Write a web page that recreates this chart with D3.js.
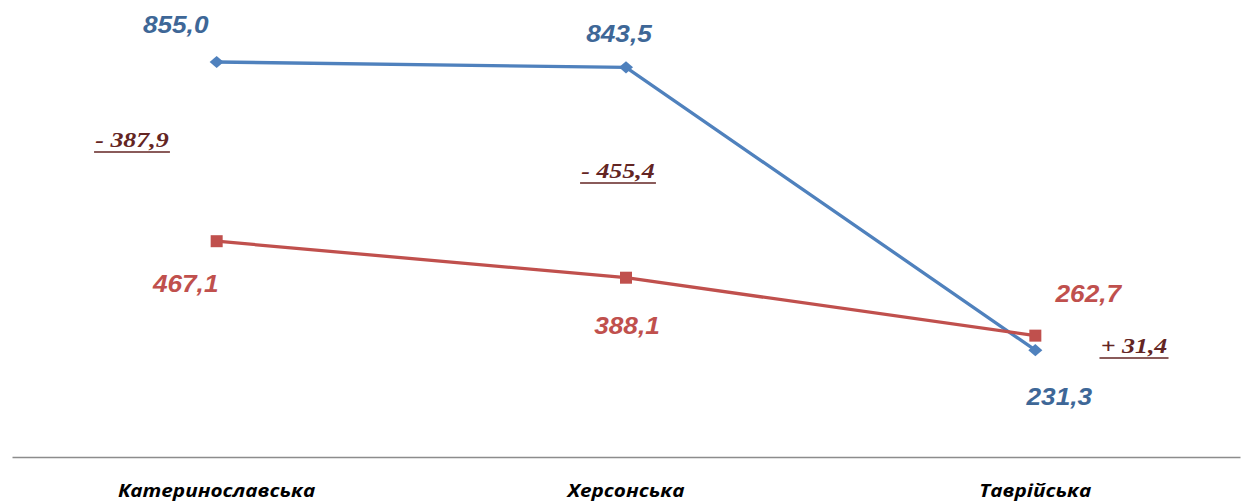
<!DOCTYPE html>
<html><head><meta charset="utf-8">
<script src="https://cdn.jsdelivr.net/npm/d3@7"></script>
<style>
html,body{margin:0;padding:0;background:#fff;}
svg{display:block;}
</style></head>
<body>
<svg id="chart" width="1247" height="503"></svg>
<script>
const categories = ["Катеринославська", "Херсонська", "Таврійська"];
const seriesBlue = [855.0, 843.5, 231.3];
const seriesRed = [467.1, 388.1, 262.7];
const diffLabels = ["- 387,9", "- 455,4", "+ 31,4"];

// layout (label offsets relative to points)
const blueLabelOff = [[-41,-29],[-7,-25],[24,55]];
const redLabelOff = [[-31,51],[1,56],[53,-34]];
const diffPos = [[132,147],[618,178],[1134,353]];

const svg = d3.select("#chart");
const x = d3.scaleBand().domain(categories).range([12,1240]);
const cx = c => x(c) + x.bandwidth()/2;
const y = d3.scaleLinear().domain([0,900]).range([457, 457-900*0.46199]);

const fmt = v => v.toFixed(1).replace(".", ",");
const SX = 1.14;

// axis
const axis = svg.append("g").attr("transform", `translate(0,${y(0)})`)
  .call(d3.axisBottom(x).tickSize(0).tickPadding(0));
axis.select(".domain").attr("stroke","#8c8c8c").attr("stroke-width",1.5);
axis.selectAll(".tick text").remove();
categories.forEach(c=>{
  svg.append("text").attr("transform",`translate(${cx(c)},497) scale(1.12,1)`)
    .attr("text-anchor","middle")
    .style("font-family","'Open Sans', sans-serif").style("font-weight","bold").style("font-style","italic")
    .style("font-size","18.5px").attr("fill","#000").text(c);
});

const line = d3.line().x((d,i)=>cx(categories[i])).y(d=>y(d));
const blue = "#4F81BD", red = "#C0504D";

svg.append("path").datum(seriesBlue).attr("d",line).attr("fill","none").attr("stroke",blue).attr("stroke-width",3.3);
svg.append("path").datum(seriesRed).attr("d",line).attr("fill","none").attr("stroke",red).attr("stroke-width",3.3);

svg.selectAll(".bm").data(seriesBlue).enter().append("path")
  .attr("d", d3.symbol().type(d3.symbolDiamond2).size(95))
  .attr("transform",(d,i)=>`translate(${cx(categories[i])},${y(d)}) scale(1.15,1)`).attr("fill",blue);
svg.selectAll(".rm").data(seriesRed).enter().append("rect")
  .attr("x",(d,i)=>cx(categories[i])-6).attr("y",d=>y(d)-6).attr("width",12).attr("height",12).attr("fill",red);

function valLabel(vals, off, color){
  vals.forEach((v,i)=>{
    svg.append("text")
      .attr("transform",`translate(${cx(categories[i])+off[i][0]},${y(v)+off[i][1]}) scale(${SX},1)`)
      .attr("text-anchor","middle")
      .style("font-family","'Liberation Sans', Arial, sans-serif").style("font-weight","bold").style("font-style","italic")
      .style("font-size","23px").attr("fill",color).text(fmt(v));
  });
}
valLabel(seriesBlue, blueLabelOff, "#3E6797");
valLabel(seriesRed, redLabelOff, "#C0504D");

diffLabels.forEach((t,i)=>{
  const g = svg.append("g").attr("transform",`translate(${diffPos[i][0]},${diffPos[i][1]}) scale(1.18,1)`);
  const tx = g.append("text").attr("text-anchor","middle")
    .style("font-family","'Liberation Serif', 'Times New Roman', serif").style("font-weight","bold").style("font-style","italic")
    .style("font-size","22px").attr("fill","#632523").text(t);
  const w = tx.node().getComputedTextLength();
  g.append("line").attr("x1",-w/2-1).attr("x2",w/2+1).attr("y1",5).attr("y2",5)
    .attr("stroke","#632523").attr("stroke-width",1.5);
});
</script>
</body></html>
